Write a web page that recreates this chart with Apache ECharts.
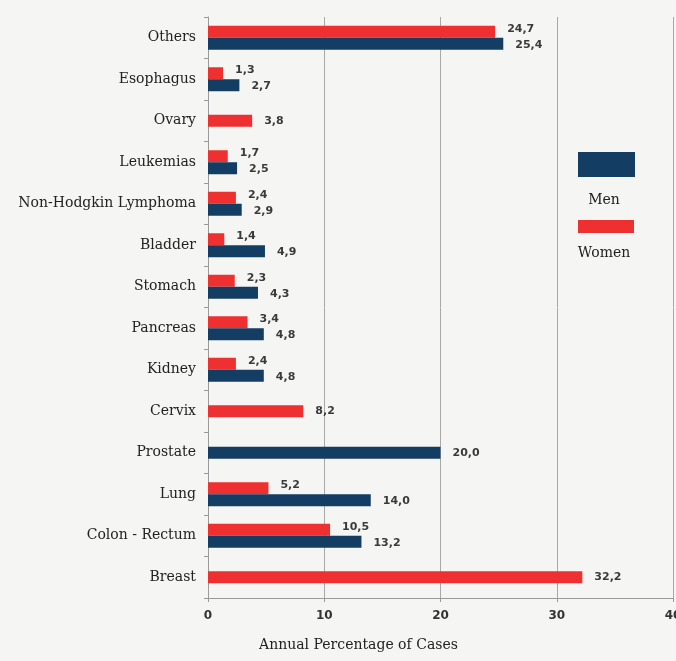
<!DOCTYPE html>
<html>
<head>
<meta charset="utf-8">
<script src="https://cdn.jsdelivr.net/npm/echarts@6/dist/echarts.min.js"></script>
<style>
html,body{margin:0;padding:0;background:#f5f5f3;overflow:hidden;}
#chart{width:676px;height:661px;}
</style>
</head>
<body>
<div id="chart"></div>
<script>
// Categories listed bottom to top
var categories = ['Breast','Colon - Rectum','Lung','Prostate','Cervix','Kidney','Pancreas','Stomach','Bladder','Non-Hodgkin Lymphoma','Leukemias','Ovary','Esophagus','Others'];
var menValues   = [null, 13.2, 14.0, 20.0, null, 4.8, 4.8, 4.3, 4.9, 2.9, 2.5, null, 2.7, 25.4];
var womenValues = [32.2, 10.5, 5.2, null, 8.2, 2.4, 3.4, 2.3, 1.4, 2.4, 1.7, 3.8, 1.3, 24.7];
var xTicks = [0, 10, 20, 30, 40];

var MEN_COLOR = '#143d64';
var WOMEN_COLOR = '#ee3030';

// paired categories (both values) vs single categories (one value)
var menPaired = menValues.map(function(v, i){ return (v != null && womenValues[i] != null) ? v : null; });
var womenPaired = womenValues.map(function(v, i){ return (v != null && menValues[i] != null) ? v : null; });
var menSingle = menValues.map(function(v, i){ return (v != null && womenValues[i] == null) ? v : null; });
var womenSingle = womenValues.map(function(v, i){ return (v != null && menValues[i] == null) ? v : null; });

function fmt(p){ return p.value == null ? '' : p.value.toFixed(1).replace('.', ','); }
function lbl(offsetY, dist){
  return {show:true, position:'right', distance:dist, offset:[0, offsetY], formatter:fmt,
    fontFamily:'DejaVu Sans', fontWeight:'bold', fontSize:11, color:'#3a3a3a'};
}

var chart = echarts.init(document.getElementById('chart'));
chart.setOption({
  backgroundColor:'#f5f5f3',
  animation:false,
  grid:{left:208, right:3, top:17, bottom:63, outerBoundsMode:'none', containLabel:false},
  xAxis:{
    type:'value', min:xTicks[0], max:xTicks[xTicks.length-1], interval:10,
    axisLine:{show:true, lineStyle:{color:'#9a9a9a'}},
    axisTick:{show:true, length:4, lineStyle:{color:'#9a9a9a'}},
    splitLine:{show:true, lineStyle:{color:'#a8a8a8', width:1}},
    axisLabel:{fontFamily:'DejaVu Sans', fontWeight:'bold', fontSize:12, color:'#333', margin:12},
    name:'Annual Percentage of Cases', nameLocation:'middle', nameGap:40,
    nameTextStyle:{fontFamily:'DejaVu Serif', fontSize:14, color:'#222', padding:[0,164,0,0]}
  },
  yAxis:[{
    type:'category', data:categories,
    axisLine:{show:true, lineStyle:{color:'#9a9a9a'}},
    axisTick:{show:true, length:4, lineStyle:{color:'#9a9a9a'}},
    axisLabel:{fontFamily:'DejaVu Serif', fontSize:14, color:'#222', margin:12},
    splitLine:{show:false}
  },{
    type:'category', data:categories, show:false
  }],
  series:[
    {name:'Women', type:'bar', yAxisIndex:0, data:womenPaired, barWidth:12, barGap:'0%',
     itemStyle:{color:WOMEN_COLOR}, label:lbl(-3, 12)},
    {name:'Men', type:'bar', yAxisIndex:0, data:menPaired, barWidth:12, barGap:'0%',
     itemStyle:{color:MEN_COLOR}, label:lbl(1, 12)},
    {name:'Women', type:'bar', yAxisIndex:1, data:womenSingle, barWidth:12, barGap:'-100%',
     itemStyle:{color:WOMEN_COLOR}, label:lbl(0, 12)},
    {name:'Men', type:'bar', yAxisIndex:1, data:menSingle, barWidth:12, barGap:'-100%',
     itemStyle:{color:MEN_COLOR}, label:lbl(0, 12)}
  ],
  graphic:[
    {type:'rect', left:578, top:152, shape:{width:57, height:25}, style:{fill:MEN_COLOR}},
    {type:'text', x:604, y:200, style:{text:'Men', fontFamily:'DejaVu Serif', fontSize:14, fill:'#222', align:'center', verticalAlign:'middle'}},
    {type:'rect', left:578, top:220, shape:{width:56, height:13}, style:{fill:WOMEN_COLOR}},
    {type:'text', x:604, y:253, style:{text:'Women', fontFamily:'DejaVu Serif', fontSize:14, fill:'#222', align:'center', verticalAlign:'middle'}}
  ]
});
</script>
</body>
</html>
